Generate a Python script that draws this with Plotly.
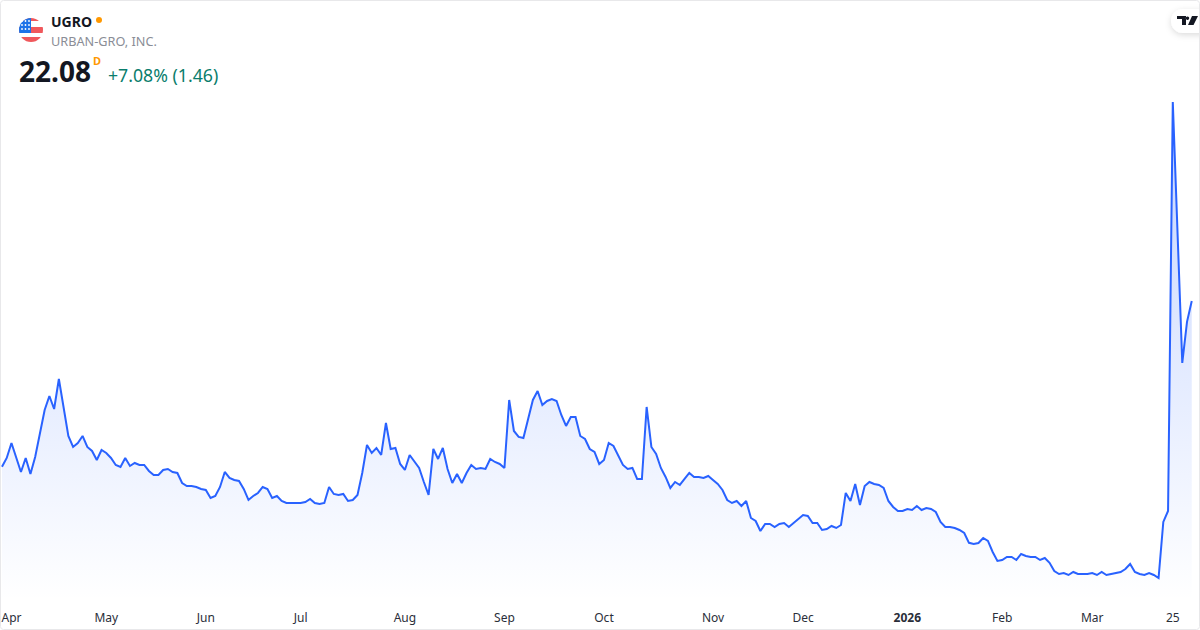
import pandas as pd
import plotly.graph_objects as go
from urllib.parse import quote

# NYSE holidays inside the window
holidays = ["2025-04-18", "2025-05-26", "2025-06-19", "2025-07-04", "2025-09-01",
            "2025-11-27", "2025-12-25", "2026-01-01", "2026-01-19", "2026-02-16"]
dates = [d.strftime("%Y-%m-%d") for d in pd.bdate_range("2025-03-31", "2026-03-31")
         if d.strftime("%Y-%m-%d") not in holidays]

close = [
    10.48, 11.09, 12.14, 11.16, 10.11, 11.09, 9.97, 11.16, 12.84, 14.45, 15.43, 14.52, 16.62, 14.59, 12.63, 11.86,
    12.14, 12.63, 11.86, 11.58, 10.95, 11.65, 11.44, 11.09, 10.60, 10.46, 11.09, 10.53, 10.74, 10.60, 10.60, 10.18,
    9.90, 9.90, 10.25, 10.32, 10.11, 10.04, 9.34, 9.13, 9.13, 9.06, 8.92, 8.85, 8.29, 8.43, 9.06, 10.11,
    9.69, 9.55, 9.48, 8.92, 8.15, 8.43, 8.64, 9.06, 8.92, 8.29, 8.43, 8.08, 7.94, 7.94, 7.94, 7.94,
    8.01, 8.22, 7.94, 7.87, 7.94, 9.06, 8.57, 8.50, 8.57, 8.08, 8.15, 8.50, 10.04, 12.00, 11.44, 11.79,
    11.30, 13.54, 11.72, 11.79, 10.67, 10.25, 11.30, 10.81, 10.39, 9.41, 8.50, 11.72, 11.02, 11.79, 10.32, 9.34,
    9.97, 9.34, 10.04, 10.60, 10.32, 10.39, 10.32, 11.02, 10.81, 10.67, 10.39, 15.15, 12.98, 12.56, 12.49, 13.82,
    15.15, 15.78, 14.80, 15.08, 15.22, 15.08, 14.10, 13.33, 13.96, 13.96, 12.63, 12.42, 11.72, 11.51, 10.67, 10.95,
    12.14, 11.93, 11.30, 10.60, 10.32, 10.39, 9.62, 9.62, 14.66, 11.86, 11.37, 10.39, 9.76, 8.99, 9.41, 9.20,
    9.62, 10.04, 9.76, 9.76, 9.69, 9.83, 9.55, 9.27, 8.85, 8.15, 7.94, 8.08, 7.73, 8.08, 6.89, 6.68,
    5.98, 6.47, 6.47, 6.26, 6.47, 6.54, 6.26, 6.54, 6.82, 7.10, 7.03, 6.54, 6.54, 6.05, 6.12, 6.33,
    6.19, 6.40, 8.64, 8.08, 9.27, 7.80, 9.13, 9.41, 9.27, 9.20, 8.99, 8.08, 7.66, 7.38, 7.38, 7.52,
    7.45, 7.73, 7.45, 7.59, 7.52, 7.31, 6.61, 6.26, 6.26, 6.19, 6.05, 5.84, 5.15, 5.07, 5.14, 5.49,
    5.28, 4.51, 3.88, 3.95, 4.16, 4.16, 3.95, 4.37, 4.23, 4.16, 4.16, 3.95, 4.09, 3.75, 3.18, 2.97,
    3.04, 2.90, 3.11, 2.97, 2.97, 2.97, 3.04, 2.90, 3.11, 2.90, 2.97, 3.04, 3.11, 3.32, 3.67, 3.11,
    2.97, 2.90, 3.04, 2.90, 2.69, 6.61, 7.38, 36.01, 26.50, 17.74, 20.62, 22.08,
]

tick_dates = ["2025-04-02", "2025-05-01", "2025-06-02", "2025-07-01", "2025-08-01", "2025-09-02",
              "2025-10-01", "2025-11-03", "2025-12-01", "2026-01-02", "2026-02-02", "2026-03-02", "2026-03-25"]
tick_labels = ["Apr", "May", "Jun", "Jul", "Aug", "Sep", "Oct", "Nov", "Dec", "<b>2026</b>", "Feb", "Mar", "25"]

FONT = "Noto Sans"
LINE = "#2962ff"


def svg_uri(w, h, body):
    svg = f'<svg xmlns="http://www.w3.org/2000/svg" width="{w}" height="{h}" viewBox="0 0 {w} {h}">{body}</svg>'
    return "data:image/svg+xml," + quote(svg)


def pixel_image(uri, x, y, w, h):
    # positions in page pixels, mapped to paper coords of the plot area
    return dict(source=uri, xref="paper", yref="paper", xanchor="left", yanchor="top",
                x=x / 1200, y=1 - y / 606, sizex=w / 1200, sizey=h / 606, sizing="stretch", layer="above")


def label(text, x, y, size, color, anchor="left"):
    return dict(text=text, xref="paper", yref="paper", x=x / 1200, y=1 - y / 606, showarrow=False,
                xanchor=anchor, yanchor="middle", font=dict(family=FONT, size=size, color=color))


flag = svg_uri(24, 24, (
    '<defs><clipPath id="c"><circle cx="12" cy="12" r="12"/></clipPath></defs>'
    '<g clip-path="url(#c)"><rect width="24" height="24" fill="#fff"/>'
    '<rect y="9" width="24" height="6" fill="#f0585c"/>'
    '<rect y="19" width="24" height="5" fill="#f0585c"/>'
    '<rect y="0" width="24" height="3" fill="#f0585c"/>'
    '<rect width="12" height="15" fill="#1e73e8"/></g>'
    + "".join(f'<circle cx="{x}" cy="{y}" r="0.9" fill="#fff"/>' for x in (3, 6.5, 10) for y in (3, 7, 11))))

badge = svg_uri(44, 44, (
    '<defs><filter id="s" x="-30%" y="-40%" width="160%" height="180%">'
    '<feDropShadow dx="0" dy="2" stdDeviation="3" flood-color="#000" flood-opacity="0.14"/></filter></defs>'
    '<rect x="15" y="9" width="60" height="24" rx="12" fill="#fff" filter="url(#s)"/>'
    '<path d="M21 16h9v9h-4v-6h-5zM31.5 16.5a1.7 1.7 0 1 0 .01 0zM36 16h6l-4.5 9h-5.5z" fill="#131722"/>'))

dot = svg_uri(8, 8, '<circle cx="4" cy="4" r="3" fill="#ff9800"/>')

frame = svg_uri(1200, 630, '<rect x="0.5" y="0.5" width="1199" height="629" rx="3" fill="none" stroke="#e8e8ea"/>')

fig = go.Figure()
fig.add_trace(go.Scatter(x=dates, y=close, mode="lines", line=dict(color=LINE, width=2),
                         fill="tozeroy",
                         fillgradient=dict(type="vertical", start=36, stop=1.1,
                                           colorscale=[[0, "rgba(41,98,255,0.28)"], [1, "rgba(41,98,255,0)"]]),
                         hoverinfo="skip"))

fig.update_layout(
    width=1200, height=630, margin=dict(l=0, r=0, t=0, b=24),
    paper_bgcolor="white", plot_bgcolor="white", showlegend=False,
    font=dict(family=FONT, size=12, color="#2a2e39"),
    images=[pixel_image(flag, 19, 18, 24, 24), pixel_image(dot, 95, 16, 8, 8),
            pixel_image(badge, 1156, 0, 44, 44), pixel_image(frame, 0, 0, 1200, 630)],
    annotations=[
        label("<b>UGRO</b>", 49, 21, 14, "#131722"),
        label("URBAN-GRO, INC.", 49, 41, 12.7, "#8a8d96"),
        label("<b>22.08</b>", 17, 71, 28, "#131722"),
        label("<b>D</b>", 91, 61, 11, "#ff9800"),
        label("+7.08% (1.46)", 106, 75, 17.7, "#0a7d6c"),
    ],
)
fig.update_xaxes(type="category", categoryorder="array", categoryarray=dates,
                 range=[-0.42, 252.74], tickmode="array", tickvals=tick_dates, ticktext=tick_labels,
                 tickangle=0, ticklabelstandoff=3, showgrid=False, zeroline=False, showline=False, ticks="")
fig.update_yaxes(range=[0.728, 43.148], visible=False)

fig.write_html("out.html", config={"displayModeBar": False}, post_script="document.body.style.margin='0';")
